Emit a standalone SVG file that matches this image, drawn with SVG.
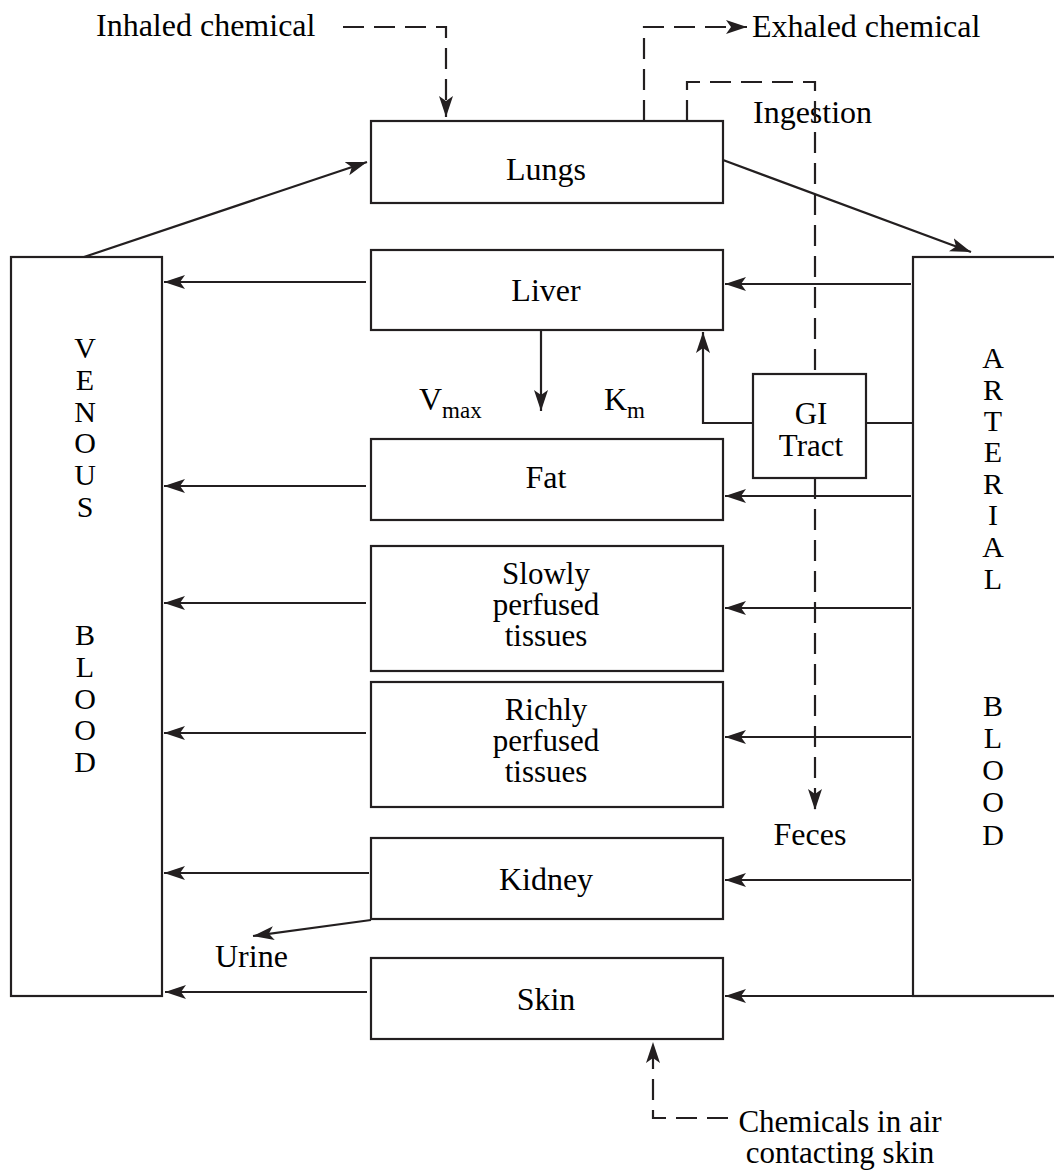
<svg xmlns="http://www.w3.org/2000/svg" width="1054" height="1171" viewBox="0 0 1054 1171">
<style>
  .box { fill: none; stroke: #231f20; stroke-width: 2.2; }
  .ln { fill: none; stroke: #231f20; stroke-width: 2.2; }
  .dash { fill: none; stroke: #231f20; stroke-width: 2.2; stroke-dasharray: 21 10; }
  text { font-family: "Liberation Serif", "Times New Roman", serif; font-size: 32px; fill: #000; }
  .c { text-anchor: middle; }
  .v { font-size: 30px; }
  .m { font-size: 31px; }
  .sub { font-size: 23px; }
</style>
<defs>
  <marker id="ah" viewBox="0 0 22 16" markerWidth="22" markerHeight="16" refX="21" refY="8" orient="auto" markerUnits="userSpaceOnUse">
    <path d="M0,1 L21,8 L0,15 L5,8 Z" fill="#231f20"/>
  </marker>
</defs>
<rect width="1054" height="1171" fill="#fff"/>

<g id="venous">
  <rect class="box" x="11" y="257" width="151" height="739"/>
  <text class="c v" x="85" y="358">V</text>
  <text class="c v" x="85" y="390">E</text>
  <text class="c v" x="85" y="422">N</text>
  <text class="c v" x="85" y="453">O</text>
  <text class="c v" x="85" y="485">U</text>
  <text class="c v" x="85" y="517">S</text>
  <text class="c v" x="85" y="645">B</text>
  <text class="c v" x="85" y="677">L</text>
  <text class="c v" x="85" y="709">O</text>
  <text class="c v" x="85" y="740">O</text>
  <text class="c v" x="85" y="772">D</text>
</g>

<g id="arterial">
  <rect class="box" x="913" y="257" width="160" height="739"/>
  <text class="c v" x="993" y="368">A</text>
  <text class="c v" x="993" y="400">R</text>
  <text class="c v" x="993" y="431">T</text>
  <text class="c v" x="993" y="462">E</text>
  <text class="c v" x="993" y="494">R</text>
  <text class="c v" x="993" y="525">I</text>
  <text class="c v" x="993" y="557">A</text>
  <text class="c v" x="993" y="589">L</text>
  <text class="c v" x="993" y="716">B</text>
  <text class="c v" x="993" y="748">L</text>
  <text class="c v" x="993" y="780">O</text>
  <text class="c v" x="993" y="812">O</text>
  <text class="c v" x="993" y="845">D</text>
</g>

<g id="lungs">
  <rect class="box" x="371" y="121" width="352" height="82"/>
  <text class="c" x="546" y="180">Lungs</text>
</g>
<g id="liver">
  <rect class="box" x="371" y="250" width="352" height="80"/>
  <text class="c" x="546" y="301">Liver</text>
</g>
<g id="fat">
  <rect class="box" x="371" y="439" width="352" height="81"/>
  <text class="c" x="546" y="488">Fat</text>
</g>
<g id="slowly">
  <rect class="box" x="371" y="546" width="352" height="125"/>
  <text class="c m" x="546" y="584">Slowly<tspan x="546" dy="31">perfused</tspan><tspan x="546" dy="31">tissues</tspan></text>
</g>
<g id="richly">
  <rect class="box" x="371" y="682" width="352" height="125"/>
  <text class="c m" x="546" y="720">Richly<tspan x="546" dy="31">perfused</tspan><tspan x="546" dy="31">tissues</tspan></text>
</g>
<g id="kidney">
  <rect class="box" x="371" y="838" width="352" height="81"/>
  <text class="c" x="546" y="890">Kidney</text>
</g>
<g id="skin">
  <rect class="box" x="371" y="958" width="352" height="81"/>
  <text class="c" x="546" y="1010">Skin</text>
</g>
<g id="gi">
  <rect class="box" x="753" y="374" width="113" height="104"/>
  <text class="c m" x="811" y="424">GI<tspan x="811" dy="32">Tract</tspan></text>
</g>

<g id="labels">
  <text x="96" y="36">Inhaled chemical</text>
  <text x="752" y="37">Exhaled chemical</text>
  <text x="753" y="123">Ingestion</text>
  <text x="419" y="410">V<tspan class="sub" dy="8">max</tspan></text>
  <text x="604" y="410">K<tspan class="sub" dy="8">m</tspan></text>
  <text class="c" x="810" y="845">Feces</text>
  <text x="215" y="967">Urine</text>
  <text class="c m" x="840" y="1132">Chemicals in air<tspan x="840" dy="31">contacting skin</tspan></text>
</g>

<g id="connectors">
  <path class="dash" d="M343,27 H446 V117" marker-end="url(#ah)"/>
  <path class="dash" d="M644,121 V27 H747" marker-end="url(#ah)"/>
  <path class="dash" d="M687,121 V82 H815 V374"/>
  <path class="dash" d="M815,478 V810" marker-end="url(#ah)"/>
  <path class="dash" d="M728,1118 H653 V1042" marker-end="url(#ah)"/>

  <path class="ln" d="M84,257 L367,162" marker-end="url(#ah)"/>
  <path class="ln" d="M723,160 L971,252" marker-end="url(#ah)"/>

  <path class="ln" d="M366,282 H164" marker-end="url(#ah)"/>
  <path class="ln" d="M911,284 H725" marker-end="url(#ah)"/>
  <path class="ln" d="M541,331 V411" marker-end="url(#ah)"/>
  <path class="ln" d="M753,423 H703 V332" marker-end="url(#ah)"/>
  <path class="ln" d="M866,423 H913"/>

  <path class="ln" d="M366,486 H164" marker-end="url(#ah)"/>
  <path class="ln" d="M911,496 H725" marker-end="url(#ah)"/>
  <path class="ln" d="M366,603 H164" marker-end="url(#ah)"/>
  <path class="ln" d="M911,608 H725" marker-end="url(#ah)"/>
  <path class="ln" d="M366,733 H164" marker-end="url(#ah)"/>
  <path class="ln" d="M911,737 H725" marker-end="url(#ah)"/>
  <path class="ln" d="M369,873 H164" marker-end="url(#ah)"/>
  <path class="ln" d="M911,880 H725" marker-end="url(#ah)"/>
  <path class="ln" d="M371,920 L253,936" marker-end="url(#ah)"/>
  <path class="ln" d="M367,992 H165" marker-end="url(#ah)"/>
  <path class="ln" d="M1054,996 H725" marker-end="url(#ah)"/>
</g>
</svg>
